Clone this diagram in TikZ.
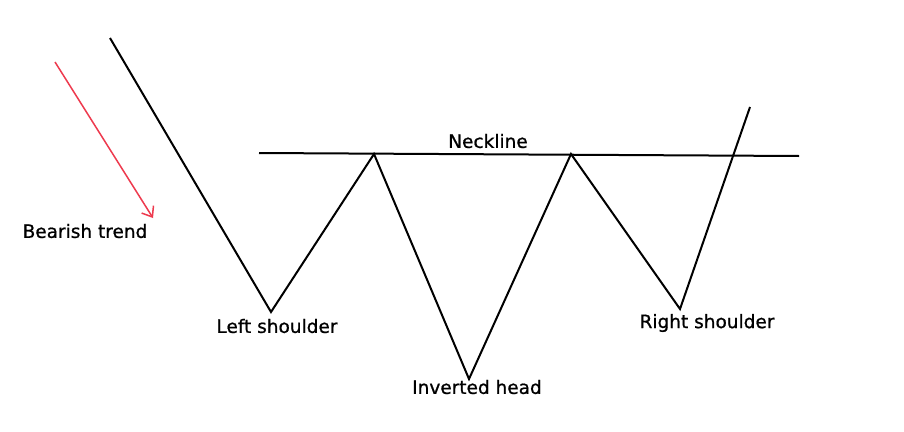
\documentclass[tikz,border=0pt]{standalone}
\usepackage{fontspec}
\setmainfont{DejaVu Sans}
\newfontfamily\lblfont[FakeBold=0.9]{DejaVu Sans}
\usetikzlibrary{arrows.meta}
\definecolor{trendred}{RGB}{238,58,78}
\begin{document}
\begin{tikzpicture}[x=1pt,y=-1pt,
  price/.style={line width=2pt,black,line join=miter},
  neck/.style={line width=2pt,black},
  trend/.style={line width=1.5pt,trendred,-{Straight Barb[length=9pt,width=14pt,line width=1.5pt]}},
  lbl/.style={font=\lblfont\fontsize{18.5}{21}\selectfont,inner sep=0pt,text=black}]
\useasboundingbox (0,0) rectangle (904,431);
\fill[white] (0,0) rectangle (904,431);
% coordinates
\coordinate (p0) at (110,38);
\coordinate (p1) at (271,312);
\coordinate (p2) at (374,154);
\coordinate (p3) at (469,379);
\coordinate (p4) at (571,154);
\coordinate (p5) at (680,309);
\coordinate (p6) at (750,107);
\coordinate (n0) at (259,153);
\coordinate (n1) at (799,156);
\coordinate (t0) at (55,62);
\coordinate (t1) at (153,218);
% lines
\draw[neck] (n0) -- (n1);
\draw[price] (p0) -- (p1) -- (p2) -- (p3) -- (p4) -- (p5) -- (p6);
\draw[trend] (t0) -- (t1);
% labels
\node[lbl] (neckline) at (488,141) {Neckline};
\node[lbl] (bearish) at (85,231) {Bearish trend};
\node[lbl] (left) at (277,326) {Left shoulder};
\node[lbl] (head) at (477,387) {Inverted head};
\node[lbl] (right) at (707,323) {Right shoulder};
\end{tikzpicture}
\end{document}
